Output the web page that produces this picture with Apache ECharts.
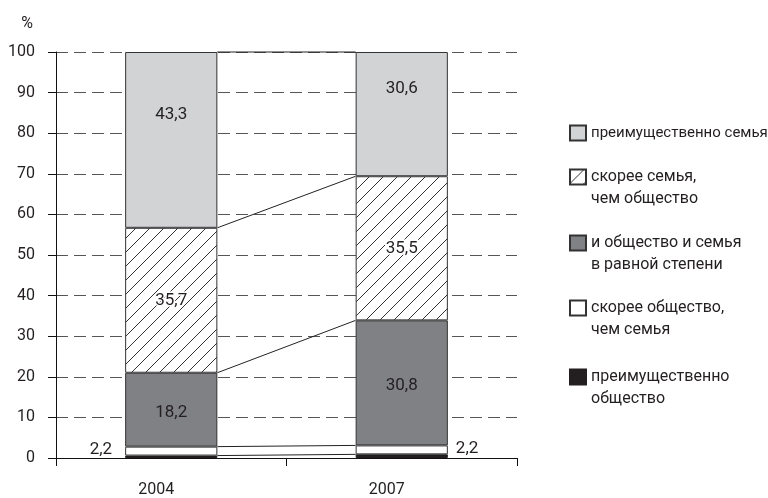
<!DOCTYPE html>
<html>
<head>
<meta charset="utf-8">
<script src="https://cdn.jsdelivr.net/npm/echarts@6/dist/echarts.min.js"></script>
<style>
  html, body { margin: 0; padding: 0; background: #fff; }
  #chart { width: 768px; height: 498px; }
</style>
</head>
<body>
<div id="chart"></div>
<script>
var years = ['2004', '2007'];
// bottom to top of the stack
var mostlySociety = [0.6, 0.9];
var ratherSociety = [2.2, 2.2];
var bothEqual = [18.2, 30.8];
var ratherFamily = [35.7, 35.5];
var mostlyFamily = [43.3, 30.6];
var yTicks = [0, 10, 20, 30, 40, 50, 60, 70, 80, 90, 100];

var names = [
    'преимущественно\nобщество',
    'скорее общество,\nчем семья',
    'и общество и семья\nв равной степени',
    'скорее семья,\nчем общество',
    'преимущественно семья'
];

var FONT = "Roboto, sans-serif";
var TXT = '#231f20';

// hatching for "скорее семья"
function hatch() {
    var c = document.createElement('canvas');
    c.width = 14; c.height = 14;
    var g = c.getContext('2d');
    g.fillStyle = '#fff';
    g.fillRect(0, 0, 14, 14);
    g.strokeStyle = '#333';
    g.lineWidth = 1;
    g.beginPath();
    g.moveTo(-1, 15); g.lineTo(15, -1);
    g.moveTo(-8, 8); g.lineTo(8, -8);
    g.moveTo(6, 22); g.lineTo(22, 6);
    g.stroke();
    return { image: c, repeat: 'repeat' };
}

var layers = [mostlySociety, ratherSociety, bothEqual, ratherFamily, mostlyFamily];
// cumulative tops of every layer, for the connecting lines
var bounds = [];
var acc = [0, 0];
layers.forEach(function (l) {
    acc = [acc[0] + l[0], acc[1] + l[1]];
    bounds.push([0, acc[0], acc[1]]);
});

function fmt(p) { return String(p.value).replace('.', ','); }

var labelBase = { show: true, position: 'inside', fontFamily: FONT, fontSize: 17, color: TXT, formatter: fmt };
var bar = { type: 'bar', stack: 'total', barWidth: '40%', itemStyle: { borderColor: '#333', borderWidth: 1 } };

var myChart = echarts.init(document.getElementById('chart'));
var option = {
    animation: false,
    grid: { left: 56, right: 251, top: 52, bottom: 40 },
    legend: [
        { top: 122, i: 4, size: 15 },
        { top: 144, i: 3, size: 16 },
        { top: 210, i: 2, size: 16 },
        { top: 275, i: 1, size: 16 },
        { top: 344, i: 0, size: 16 }
    ].map(function (o) {
        return {
            left: 569, top: o.top, padding: 0,
            data: [names[o.i]],
            icon: 'rect', itemWidth: 16, itemHeight: 15, itemGap: 8,
            // leading blank line keeps the icon level with the first text line
            formatter: function (n) { return n.indexOf('\n') >= 0 ? '\n' + n : n; },
            textStyle: { fontFamily: FONT, fontSize: o.size, color: TXT, lineHeight: 22 }
        };
    }),
    xAxis: {
        type: 'category',
        data: years,
        boundaryGap: true,
        axisLine: { lineStyle: { color: '#111', width: 1 } },
        axisTick: { show: true, length: 8, lineStyle: { color: '#111' } },
        axisLabel: { margin: 24, fontFamily: FONT, fontSize: 16, color: TXT, padding: [0, 30, 0, 0] }
    },
    yAxis: {
        type: 'value',
        min: 0, max: 100, interval: 10,
        name: '%',
        nameLocation: 'end',
        nameGap: 20,
        nameTextStyle: { fontFamily: FONT, fontSize: 16, color: TXT, align: 'right', padding: [0, 23, 0, 0] },
        axisLine: { show: true, lineStyle: { color: '#111', width: 1 } },
        axisTick: { show: true, length: 8, lineStyle: { color: '#111' } },
        axisLabel: {
            margin: 21, fontFamily: FONT, fontSize: 16, color: TXT,
            formatter: function (v) { return yTicks.indexOf(v) >= 0 ? String(v) : ''; }
        },
        splitLine: { show: true, lineStyle: { color: '#555', type: [12, 6], width: 1 } }
    },
    series: [
        Object.assign({}, bar, {
            name: names[0], data: mostlySociety,
            itemStyle: { color: '#231f20', borderColor: '#231f20', borderWidth: 1 }
        }),
        Object.assign({}, bar, {
            name: names[1],
            data: [
                { value: ratherSociety[0], label: { position: 'left', distance: 13, offset: [0, -1] } },
                { value: ratherSociety[1], label: { position: 'right', distance: 8, offset: [0, -1] } }
            ],
            itemStyle: { color: '#ffffff', borderColor: '#333', borderWidth: 1 },
            label: Object.assign({}, labelBase)
        }),
        Object.assign({}, bar, {
            name: names[2], data: bothEqual,
            itemStyle: { color: '#808184', borderColor: '#333', borderWidth: 1 },
            label: Object.assign({}, labelBase, { offset: [0, 3] })
        }),
        Object.assign({}, bar, {
            name: names[3], data: ratherFamily,
            itemStyle: { color: hatch(), borderColor: '#333', borderWidth: 1 },
            label: Object.assign({}, labelBase, { textBorderColor: '#fff', textBorderWidth: 3 })
        }),
        Object.assign({}, bar, {
            name: names[4], data: mostlyFamily,
            itemStyle: { color: '#d2d3d5', borderColor: '#333', borderWidth: 1 },
            label: Object.assign({}, labelBase, { offset: [0, -25] })
        }),
        {
            type: 'custom',
            silent: true,
            z: 3,
            data: bounds,
            encode: { x: 0, y: [1, 2] },
            renderItem: function (params, api) {
                var half = api.size([1, 0])[0] * 0.2;
                var a = api.coord([0, api.value(1)]);
                var b = api.coord([1, api.value(2)]);
                return {
                    type: 'line',
                    shape: { x1: a[0] + half, y1: a[1], x2: b[0] - half, y2: b[1] },
                    style: { stroke: '#222', lineWidth: 1 }
                };
            }
        }
    ]
};

myChart.setOption(option);
</script>
</body>
</html>
